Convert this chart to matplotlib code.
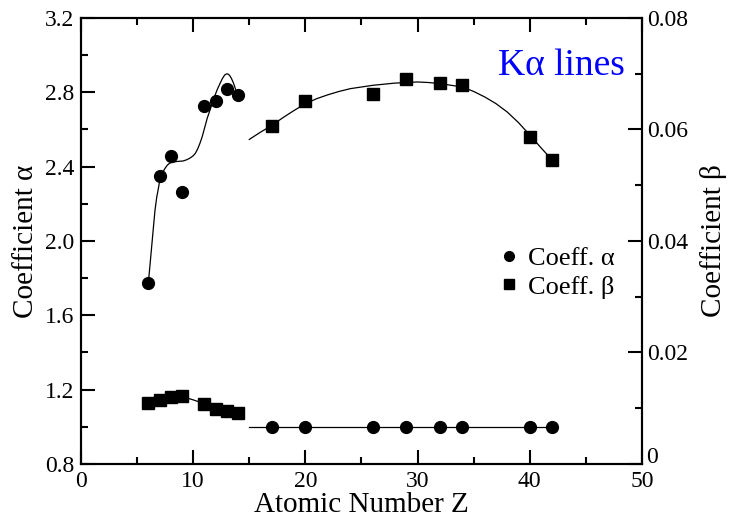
import matplotlib
matplotlib.use('Agg')
import matplotlib.pyplot as plt
from matplotlib.lines import Line2D
from matplotlib.ticker import MultipleLocator, FuncFormatter

plt.rcParams['font.family'] = ['Liberation Serif', 'DejaVu Serif']

# light elements, Z = 6..14
z_light = [6, 7, 8, 9, 11, 12, 13, 14]
alpha_light = [1.773, 2.351, 2.457, 2.262, 2.727, 2.753, 2.817, 2.785]
beta_light = [0.0109, 0.01153, 0.01207, 0.01225, 0.01076, 0.00986, 0.00945, 0.00909]

# heavier elements, Z = 17..42
z_heavy = [17, 20, 26, 29, 32, 34, 40, 42]
alpha_heavy = [1.0, 1.0, 1.0, 1.0, 1.0, 1.0, 1.0, 1.0]
beta_heavy = [0.0606, 0.0650, 0.0663, 0.0690, 0.0683, 0.0680, 0.0586, 0.0545]

# fitted curves
z_fit_alpha = [6.0, 6.15, 6.3, 6.45, 6.6, 6.75, 6.9, 7.0, 7.15, 7.3, 7.5, 7.7, 7.9,
               8.1, 8.5, 9.1, 9.4, 9.7, 10.0, 10.2, 10.4, 10.6, 10.8, 11.05, 11.25,
               11.5, 11.7, 11.9, 12.15, 12.4, 12.6, 12.8, 12.95, 13.1, 13.25, 13.4,
               13.55, 13.7, 13.85, 14.0]
alpha_fit = [1.773, 1.87, 1.97, 2.07, 2.167, 2.235, 2.283, 2.32, 2.352, 2.372, 2.391,
             2.408, 2.418, 2.422, 2.427, 2.430, 2.436, 2.445, 2.458, 2.472, 2.495,
             2.525, 2.56, 2.615, 2.66, 2.704, 2.74, 2.776, 2.815, 2.848, 2.873,
             2.892, 2.898, 2.898, 2.89, 2.875, 2.855, 2.830, 2.80, 2.785]
z_fit_beta_light = [6, 7, 8, 9, 10, 11, 12, 13, 14]
beta_fit_light = [0.0109, 0.01155, 0.0120, 0.0121, 0.0115, 0.0108, 0.0099, 0.00945, 0.0091]
z_fit_heavy = [15, 16, 17, 18, 19, 20, 21, 22, 23, 24, 25, 26, 27, 28, 29, 30, 31,
               32, 33, 34, 35, 36, 37, 38, 39, 40, 41, 42]
beta_fit_heavy = [0.0582, 0.0595, 0.0607, 0.0621, 0.0634, 0.0646, 0.0655, 0.0662,
                  0.0668, 0.0673, 0.0676, 0.0679, 0.0681, 0.0683, 0.0684, 0.0685,
                  0.0684, 0.0682, 0.0679, 0.0676, 0.0668, 0.0658, 0.0646, 0.0631,
                  0.0612, 0.0590, 0.0567, 0.0545]
z_flat = [15, 42]
alpha_flat = [1.0, 1.0]

fig = plt.figure(figsize=(7.33, 5.2), dpi=100)
ax = fig.add_axes([0.1105, 0.1077, 0.7653, 0.858])
ax2 = ax.twinx()

lw = 0.9
ax.plot(z_fit_alpha, alpha_fit, color='k', lw=lw)
ax.plot(z_flat, alpha_flat, color='k', lw=lw)
ax2.plot(z_fit_beta_light, beta_fit_light, color='k', lw=lw)
ax2.plot(z_fit_heavy, beta_fit_heavy, color='k', lw=lw)

ms = 8.5
ax.plot(z_light, alpha_light, 'o', color='k', ms=ms)
ax.plot(z_heavy, alpha_heavy, 'o', color='k', ms=ms)
ax2.plot(z_light, beta_light, 's', color='k', ms=ms - 0.5)
ax2.plot(z_heavy, beta_heavy, 's', color='k', ms=ms - 0.5)

ax.set_xlim(0, 50)
ax.set_ylim(0.8, 3.2)
ax2.set_ylim(0, 0.08)

ax.xaxis.set_major_locator(MultipleLocator(10))
ax.xaxis.set_minor_locator(MultipleLocator(5))
ax.yaxis.set_major_locator(MultipleLocator(0.4))
ax.yaxis.set_minor_locator(MultipleLocator(0.2))
ax.yaxis.set_major_formatter(FuncFormatter(lambda v, p: f'{v:.1f}'))
ax2.yaxis.set_major_locator(MultipleLocator(0.02))
ax2.yaxis.set_minor_locator(MultipleLocator(0.01))
# the zero label is placed by hand, raised above the x tick labels
ax2.yaxis.set_major_formatter(FuncFormatter(lambda v, p: '' if abs(v) < 1e-9 else f'{v:.2f}'))
ax2.annotate('0', xy=(1, 0), xycoords='axes fraction', xytext=(3, 5),
             textcoords='offset points', ha='left', va='center', fontsize=17)

ax.tick_params(which='both', direction='in', top=True, right=False, labelsize=17, width=1.5)
ax.tick_params(which='major', length=10, pad=5)
ax.tick_params(which='minor', length=5)
ax2.tick_params(which='both', direction='in', labelsize=17, width=1.5)
ax2.tick_params(which='major', length=10, pad=4)
ax2.tick_params(which='minor', length=5)
for a in (ax, ax2):
    for s in a.spines.values():
        s.set_linewidth(1.5)

ax.set_xlabel('Atomic Number Z', fontsize=21, labelpad=0)
ax.set_ylabel('Coefficient α', fontsize=21, labelpad=4)
ax2.set_ylabel('Coefficient β', fontsize=21, labelpad=8)

ax.text(0.856, 0.892, 'Kα lines', transform=ax.transAxes, color='#0000ff',
        fontsize=27, ha='center', va='center')

handles = [Line2D([], [], marker='o', ls='none', color='k', ms=7),
           Line2D([], [], marker='s', ls='none', color='k', ms=6.5)]
ax.legend(handles, ['Coeff. α', 'Coeff. β'], loc='center left',
          bbox_to_anchor=(0.749, 0.429), frameon=False, fontsize=19,
          handlelength=0.6, handletextpad=0.4, labelspacing=0.2, borderpad=0,
          borderaxespad=0)

fig.savefig('out.png', dpi=100)
